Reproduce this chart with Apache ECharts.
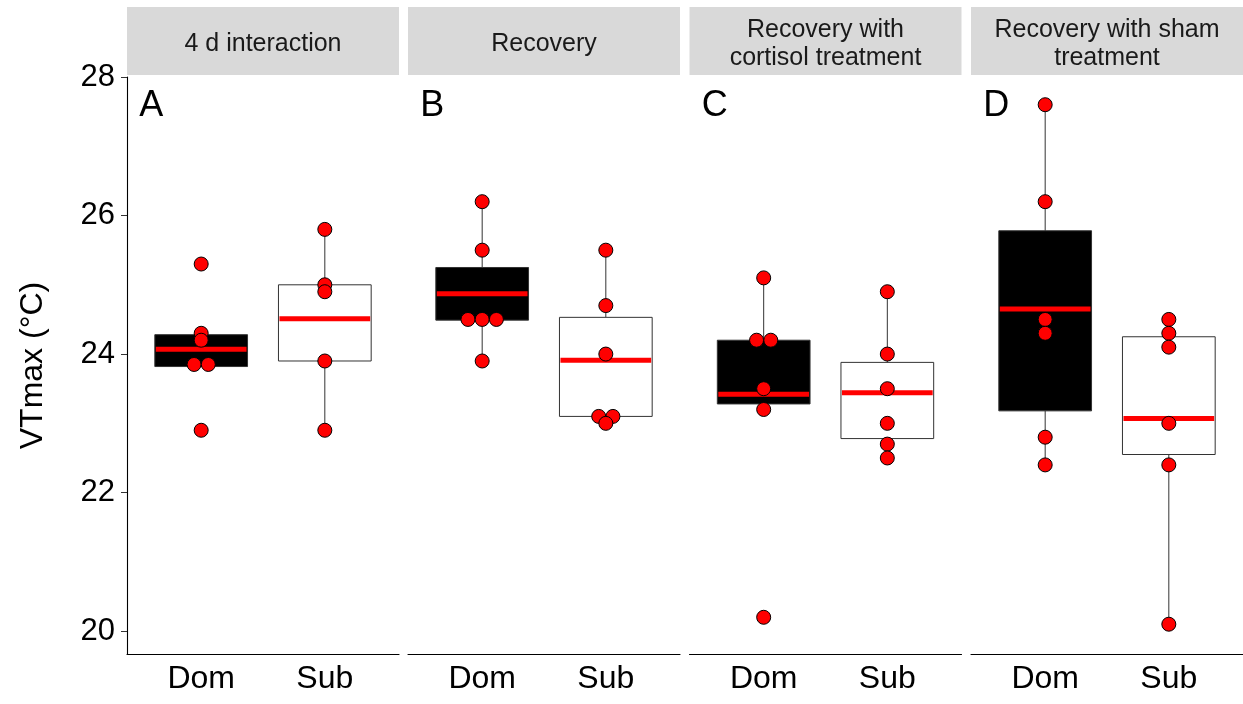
<!DOCTYPE html>
<html>
<head>
<meta charset="utf-8">
<script src="https://cdn.jsdelivr.net/npm/echarts@6/dist/echarts.min.js"></script>
<style>html,body{margin:0;padding:0;background:#fff;}#c{width:1243px;height:704px;}</style>
</head>
<body>
<div id="c"></div>
<script>
// ---- data ----
const panels = ['4 d interaction', 'Recovery', 'Recovery with\ncortisol treatment', 'Recovery with sham\ntreatment'];
const letters = ['A', 'B', 'C', 'D'];
const groups = ['Dom', 'Sub'];
const yTicks = [20, 22, 24, 26, 28];
const yTitle = 'VTmax (°C)';
// box stats per panel: [lower whisker, Q1, median, Q3, upper whisker]
const domBox = [[23.82, 23.82, 24.07, 24.28, 24.30], [23.9, 24.49, 24.87, 25.25, 26.2], [23.2, 23.28, 23.42, 24.2, 25.1], [22.4, 23.18, 24.65, 25.78, 27.6]];
const subBox = [[22.9, 23.9, 24.51, 25.0, 25.8], [23.0, 23.1, 23.91, 24.53, 25.5], [22.5, 22.78, 23.44, 23.88, 24.9], [20.1, 22.55, 23.07, 24.25, 24.5]];
// individual observations
const domPoints = [[25.3, 24.3, 24.2, 23.85, 23.85, 22.9], [26.2, 25.5, 24.5, 24.5, 24.5, 23.9], [25.1, 24.2, 24.2, 23.5, 23.2, 20.2], [27.6, 26.2, 24.5, 24.3, 22.8, 22.4]];
const subPoints = [[25.8, 25.0, 24.9, 23.9, 22.9], [25.5, 24.7, 24.0, 23.1, 23.1, 23.0], [24.9, 24.0, 23.5, 23.0, 22.7, 22.5], [24.5, 24.3, 24.1, 23.0, 22.4, 20.1]];
const letterX = 0.5, letterY = 27.6;

// ---- layout / style ----
const FONT = '"Liberation Sans", Arial, sans-serif';
const gridLefts = [127, 408, 689.5, 971];
const gridWidth = 272, gridTop = 77, gridHeight = 577;
const yMin = 19.67, yMax = 28;
const xMin = 0.4, xMax = 2.6;
const boxWidth = 0.75;
const dotStep = 0.115;
const fills = ['#000000', '#FFFFFF'];

function stackOffsets(vals) {
  const counts = {}, seen = {};
  vals.forEach(v => { counts[v] = (counts[v] || 0) + 1; });
  return vals.map(v => {
    const n = counts[v]; const i = seen[v] || 0; seen[v] = i + 1;
    return (i - (n - 1) / 2) * dotStep;
  });
}

const grids = [], xAxes = [], yAxes = [], series = [], graphics = [];
panels.forEach((name, p) => {
  grids.push({ left: gridLefts[p], top: gridTop, width: gridWidth, height: gridHeight, containLabel: false });
  xAxes.push({
    type: 'value', gridIndex: p, min: xMin, max: xMax,
    axisLine: { show: true, onZero: false, lineStyle: { color: '#000', width: 1.1 } },
    axisTick: { show: false },
    splitLine: { show: false },
    axisLabel: { customValues: [1, 2], formatter: v => groups[Math.round(v) - 1] || '', fontSize: 32, fontFamily: FONT, color: '#000', margin: 9 }
  });
  const first = p === 0;
  yAxes.push({
    type: 'value', gridIndex: p, min: yMin, max: yMax,
    axisLine: { show: first, lineStyle: { color: '#000', width: 1.1 } },
    axisTick: { show: first, length: 6, customValues: yTicks, lineStyle: { color: '#333' } },
    axisLabel: { show: first, customValues: yTicks, fontSize: 31, fontFamily: FONT, color: '#000', margin: 12 },
    splitLine: { show: false }
  });
  // boxes
  const boxData = [[1].concat(domBox[p]).concat([0]), [2].concat(subBox[p]).concat([1])];
  series.push({
    type: 'custom', xAxisIndex: p, yAxisIndex: p, z: 2,
    data: boxData,
    renderItem: function (params, api) {
      const x = api.value(0), lo = api.value(1), q1 = api.value(2), med = api.value(3), q3 = api.value(4), hi = api.value(5);
      const fill = fills[api.value(6)];
      const half = api.size([boxWidth, 0])[0] / 2;
      const pLo = api.coord([x, lo]), pQ1 = api.coord([x, q1]), pMed = api.coord([x, med]), pQ3 = api.coord([x, q3]), pHi = api.coord([x, hi]);
      const cx = pMed[0];
      return {
        type: 'group', children: [
          { type: 'line', shape: { x1: cx, y1: pQ3[1], x2: cx, y2: pHi[1] }, style: { stroke: '#333', lineWidth: 1 } },
          { type: 'line', shape: { x1: cx, y1: pQ1[1], x2: cx, y2: pLo[1] }, style: { stroke: '#333', lineWidth: 1 } },
          { type: 'rect', shape: { x: cx - half, y: pQ3[1], width: 2 * half, height: pQ1[1] - pQ3[1] }, style: { fill: fill, stroke: '#333', lineWidth: 1 } },
          { type: 'line', shape: { x1: cx - half + 1, y1: pMed[1], x2: cx + half - 1, y2: pMed[1] }, style: { stroke: '#FF0000', lineWidth: 5 } }
        ]
      };
    }
  });
  // points
  const pts = [];
  [domPoints[p], subPoints[p]].forEach((vals, g) => {
    const offs = stackOffsets(vals);
    vals.forEach((v, i) => pts.push([g + 1 + offs[i], v]));
  });
  series.push({
    type: 'scatter', xAxisIndex: p, yAxisIndex: p, z: 5,
    symbol: 'circle', symbolSize: 14,
    itemStyle: { color: '#FF0000', borderColor: '#000', borderWidth: 1, opacity: 1 },
    data: pts
  });
  // panel letter
  series.push({
    type: 'custom', xAxisIndex: p, yAxisIndex: p, z: 6,
    data: [[letterX, letterY]],
    renderItem: function (params, api) {
      const c = api.coord([api.value(0), api.value(1)]);
      return { type: 'text', x: c[0], y: c[1] + 1, style: { text: letters[p], font: '36px ' + FONT, fill: '#000', align: 'left', verticalAlign: 'middle', textAlign: 'left', textVerticalAlign: 'middle' } };
    }
  });
  // strip
  graphics.push({ type: 'rect', shape: { x: gridLefts[p], y: 7, width: gridWidth, height: 68 }, style: { fill: '#D9D9D9' }, z: 1 });
  graphics.push({ type: 'text', x: gridLefts[p] + gridWidth / 2, y: 7 + 37, z: 2,
    style: { text: name, font: '25px ' + FONT, fill: '#1A1A1A', lineHeight: 28, align: 'center', verticalAlign: 'middle', textAlign: 'center', textVerticalAlign: 'middle' } });
});
graphics.push({ type: 'text', x: 33, y: gridTop + gridHeight / 2, rotation: Math.PI / 2, z: 2,
  style: { text: yTitle, font: '32px ' + FONT, fill: '#000', align: 'center', verticalAlign: 'middle', textAlign: 'center', textVerticalAlign: 'middle' } });

const chart = echarts.init(document.getElementById('c'), null, { renderer: 'canvas' });
chart.setOption({
  animation: false,
  backgroundColor: '#FFFFFF',
  grid: grids, xAxis: xAxes, yAxis: yAxes, series: series,
  graphic: { elements: graphics }
});
</script>
</body>
</html>
